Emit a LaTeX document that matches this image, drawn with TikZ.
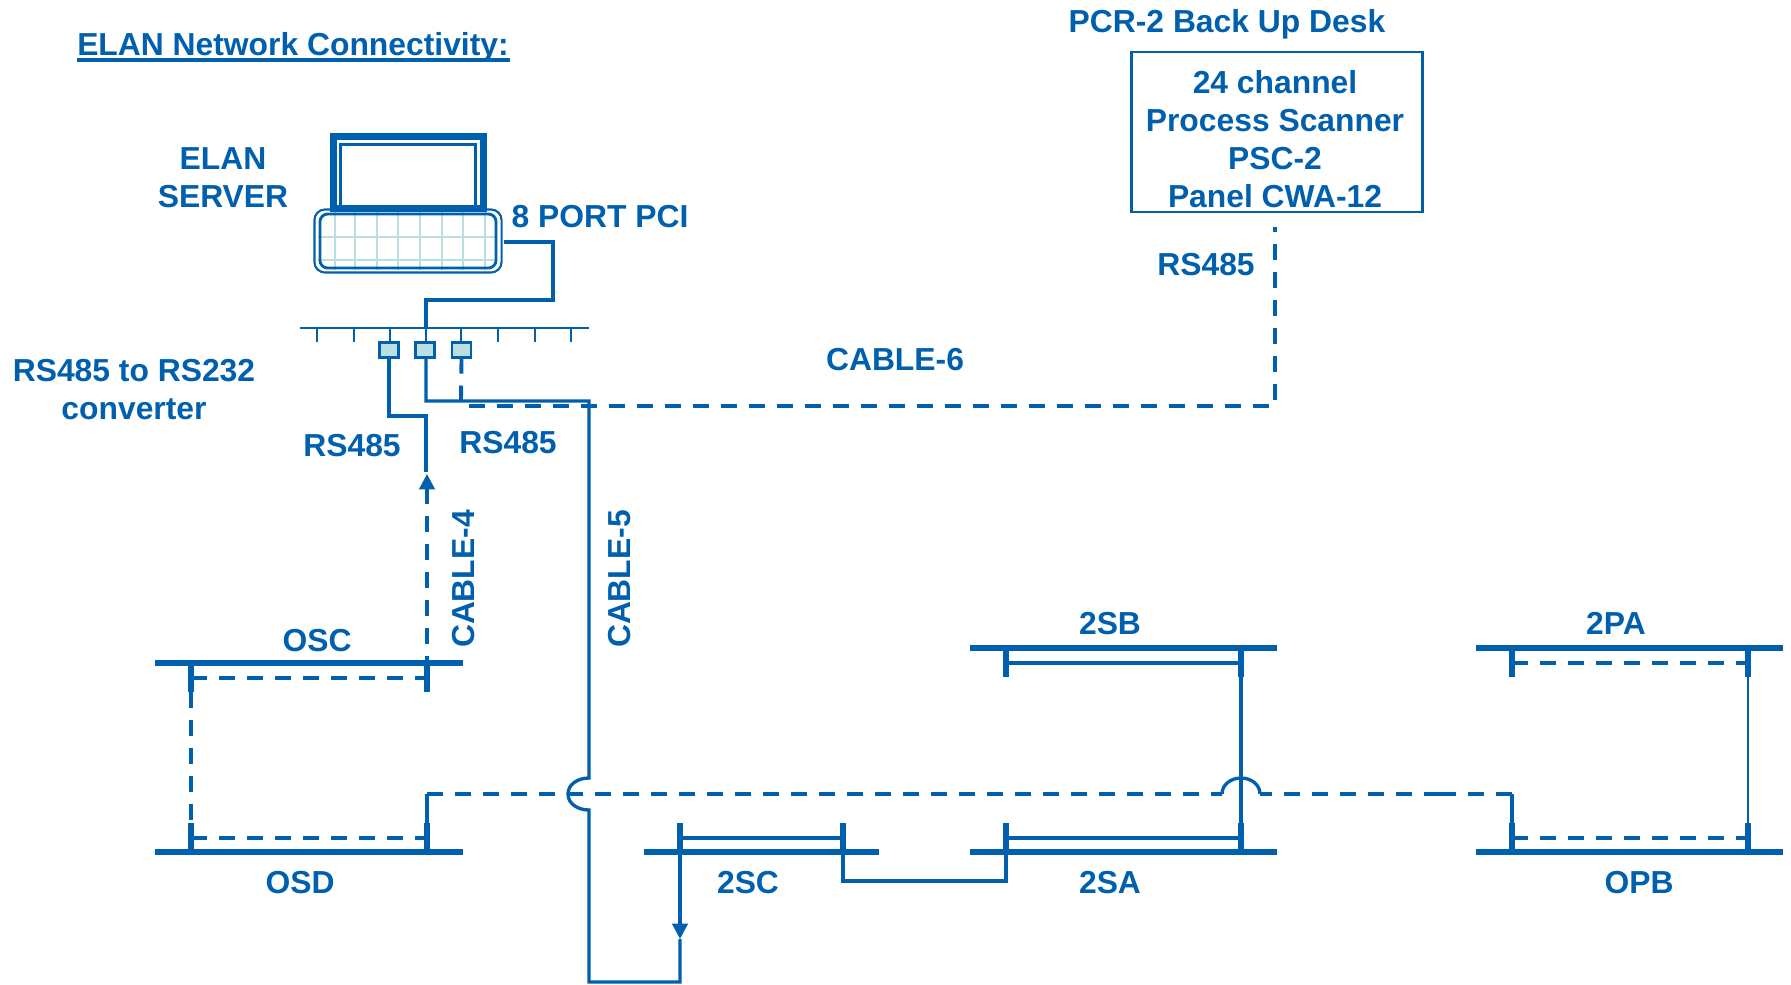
\documentclass[tikz,border=0pt]{standalone}
\usepackage{fontspec}
\setmainfont{Liberation Sans}
\usepackage{tikz}
\usetikzlibrary{arrows.meta}
\definecolor{elanblue}{HTML}{0060AE}
\definecolor{elanpale}{HTML}{B9DFE0}
\tikzset{
	lbl/.style={font=\fontsize{9.05}{10.8}\selectfont\bfseries,text=elanblue,anchor=base,inner sep=0pt,outer sep=0pt,align=center},
	bus/.style={draw=elanblue,line width=1.6pt},
	stub/.style={draw=elanblue,line width=1.5pt},
	wire/.style={draw=elanblue,line width=0.95pt},
	thinwire/.style={draw=elanblue,line width=0.65pt},
	dashwire/.style={draw=elanblue,line width=1.1pt,dash pattern=on 4.55pt off 3.41pt},
	conv/.style={draw=elanblue,fill=elanpale,line width=0.65pt,minimum width=0.19cm,minimum height=0.15cm,inner sep=0pt,outer sep=0pt},
	grid/.style={draw=elanpale,line width=0.7pt},
	tip/.style={-{Triangle[width=4.4pt,length=4.4pt]}}
}
\begin{document}
\begin{tikzpicture}[x=0.01cm,y=-0.01cm]
	\useasboundingbox (0,0) rectangle (1791,984);
	% laptop
	\draw[grid] (335,211) to (335,270);
	\draw[grid] (355,211) to (355,270);
	\draw[grid] (377,211) to (377,270);
	\draw[grid] (398,211) to (398,270);
	\draw[grid] (420,211) to (420,270);
	\draw[grid] (442,211) to (442,270);
	\draw[grid] (463,211) to (463,270);
	\draw[grid] (485,211) to (485,270);
	\draw[grid] (318,237) to (497,237);
	\draw[grid] (318,260) to (497,260);
	\node[draw=elanblue,line width=2pt,minimum width=1.5cm,minimum height=0.72cm,inner sep=0pt] (monitor) at (408.5,172.5) {};
	\node[draw=elanblue,line width=0.8pt,minimum width=1.35cm,minimum height=0.63cm,inner sep=0pt] (screen) at (408,176) {};
	\node[draw=elanblue,line width=0.6pt,rounded corners=3pt,minimum width=1.87cm,minimum height=0.63cm,inner sep=0pt] (kbdouter) at (408,241) {};
	\node[draw=elanblue,line width=0.8pt,rounded corners=2.2pt,minimum width=1.76cm,minimum height=0.54cm,inner sep=0pt] (kbd) at (408,241) {};
	% port strip
	\coordinate (stripL) at (300,328);
	\coordinate (stripR) at (589,328);
	\coordinate (tickA) at (317,328);
	\coordinate (tickAe) at (317,342);
	\coordinate (tickB) at (354,328);
	\coordinate (tickBe) at (354,342);
	\coordinate (tickC) at (390,328);
	\coordinate (tickD) at (426,328);
	\coordinate (tickE) at (461,328);
	\coordinate (tickF) at (498,328);
	\coordinate (tickFe) at (498,342);
	\coordinate (tickG) at (535,328);
	\coordinate (tickGe) at (535,342);
	\coordinate (tickH) at (571,328);
	\coordinate (tickHe) at (571,342);
	\node[conv] (convA) at (389,350) {};
	\node[conv] (convB) at (425,350) {};
	\node[conv] (convC) at (461.5,350) {};
	\draw[thinwire] (stripL) to (stripR);
	\draw[thinwire] (tickA) to (tickAe);
	\draw[thinwire] (tickB) to (tickBe);
	\draw[thinwire] (tickC) to (tickC |- convA.north);
	\draw[thinwire] (tickD) to (tickD |- convB.north);
	\draw[thinwire] (tickE) to (tickE |- convC.north);
	\draw[thinwire] (tickF) to (tickFe);
	\draw[thinwire] (tickG) to (tickGe);
	\draw[thinwire] (tickH) to (tickHe);
	% server to strip
	\coordinate (pciA) at (504,242);
	\coordinate (pciB) at (553,242);
	\coordinate (pciC) at (553,300);
	\coordinate (pciD) at (426,300);
	\draw[wire] (pciA) to (pciB) to (pciC) to (pciD) to (tickD);
	% buses
	\coordinate (oscL) at (155,663);
	\coordinate (oscR) at (463,663);
	\coordinate (osdL) at (155,852);
	\coordinate (osdR) at (463,852);
	\coordinate (scL) at (644,852);
	\coordinate (scR) at (879,852);
	\coordinate (saL) at (970,852);
	\coordinate (saR) at (1277,852);
	\coordinate (sbL) at (970,648);
	\coordinate (sbR) at (1277,648);
	\coordinate (paL) at (1476,648);
	\coordinate (paR) at (1783,648);
	\coordinate (opL) at (1476,852);
	\coordinate (opR) at (1783,852);
	\draw[bus] (oscL) to (oscR);
	\draw[bus] (osdL) to (osdR);
	\draw[bus] (scL) to (scR);
	\draw[bus] (saL) to (saR);
	\draw[bus] (sbL) to (sbR);
	\draw[bus] (paL) to (paR);
	\draw[bus] (opL) to (opR);
	% breakers
	\coordinate (oscA) at (191,663);
	\coordinate (oscAe) at (191,692);
	\coordinate (oscB) at (427,663);
	\coordinate (oscBe) at (427,692);
	\coordinate (osdA) at (191,852);
	\coordinate (osdAe) at (191,823);
	\coordinate (osdB) at (427,852);
	\coordinate (osdBe) at (427,823);
	\coordinate (scA) at (680,852);
	\coordinate (scAe) at (680,823);
	\coordinate (scB) at (843,852);
	\coordinate (scBe) at (843,823);
	\coordinate (saA) at (1006,852);
	\coordinate (saAe) at (1006,823);
	\coordinate (saB) at (1241,852);
	\coordinate (saBe) at (1241,823);
	\coordinate (sbA) at (1006,648);
	\coordinate (sbAe) at (1006,677);
	\coordinate (sbB) at (1241,648);
	\coordinate (sbBe) at (1241,677);
	\coordinate (paA) at (1512,648);
	\coordinate (paAe) at (1512,677);
	\coordinate (paB) at (1748,648);
	\coordinate (paBe) at (1748,677);
	\coordinate (opA) at (1512,852);
	\coordinate (opAe) at (1512,823);
	\coordinate (opB) at (1748,852);
	\coordinate (opBe) at (1748,823);
	\draw[stub] (oscA) to (oscAe);
	\draw[stub] (oscB) to (oscBe);
	\draw[stub] (osdA) to (osdAe);
	\draw[stub] (osdB) to (osdBe);
	\draw[stub] (scA) to (scAe);
	\draw[stub] (scB) to (scBe);
	\draw[stub] (saA) to (saAe);
	\draw[stub] (saB) to (saBe);
	\draw[stub] (sbA) to (sbAe);
	\draw[stub] (sbB) to (sbBe);
	\draw[stub] (paA) to (paAe);
	\draw[stub] (paB) to (paBe);
	\draw[stub] (opA) to (opAe);
	\draw[stub] (opB) to (opBe);
	% links between breakers
	\draw[dashwire] (191,678) to (427,678);
	\draw[dashwire] (191,838) to (427,838);
	\draw[wire] (680,838) to (843,838);
	\draw[wire] (1006,838) to (1241,838);
	\draw[wire] (1006,663) to (1241,663);
	\draw[dashwire] (1512,663) to (1748,663);
	\draw[dashwire] (1512,838) to (1748,838);
	\draw[dashwire] (oscAe) to (osdAe);
	\draw[wire] (sbBe) to (saBe);
	\draw[thinwire] (paBe) to (opBe);
	% ring
	\coordinate (ringA) at (427,794);
	\coordinate (ringB) at (1222,794);
	\coordinate (ringC) at (1241,778);
	\coordinate (ringD) at (1260,794);
	\coordinate (ringE) at (1440,794);
	\coordinate (ringF) at (1512,794);
	\draw[wire] (osdB) to (ringA);
	\draw[dashwire] (ringA) to (ringB);
	\draw[wire] (ringB) to[out=90,in=180] (ringC) to[out=0,in=90] (ringD);
	\draw[dashwire,dash phase=1.14pt] (ringD) to (ringE);
	\draw[dashwire] (ringE) to (ringF);
	\draw[wire] (ringF) to (opA);
	\coordinate (linkA) at (843,881);
	\coordinate (linkB) at (1006,881);
	\draw[wire] (scB) to (linkA) to (linkB) to (saA);
	% cable 4
	\coordinate (cabA) at (389,416);
	\coordinate (cabB) at (426,416);
	\coordinate (cabC) at (426,472);
	\coordinate (cabD) at (427,474);
	\coordinate (cabE) at (427,488);
	\coordinate (cabF) at (427,672);
	\draw[wire] (convA.south) to (cabA) to (cabB) to (cabC);
	\draw[dashwire] (cabF) to (cabE);
	\draw[wire,tip] (cabE) to (cabD);
	% cable 5
	\coordinate (fiveA) at (426,401);
	\coordinate (fiveB) at (589,401);
	\coordinate (fiveC) at (589,778);
	\coordinate (fiveD) at (568,794);
	\coordinate (fiveE) at (589,810);
	\coordinate (fiveF) at (589,982);
	\coordinate (fiveG) at (680,982);
	\coordinate (fiveH) at (680,939);
	\draw[wire] (convB.south -| fiveA) to (fiveA) to (fiveB) to (fiveC) to[out=180,in=90] (fiveD) to[out=-90,in=180] (fiveE) to (fiveF) to (fiveG) to (fiveH);
	\draw[wire,tip] (scA) to (fiveH);
	% cable 6
	\node[draw=elanblue,line width=0.7pt,minimum width=2.91cm,minimum height=1.6cm,inner sep=0pt] (psc) at (1277,132) {};
	\node[lbl] (psctext) at (1275,207) {24 channel\\Process Scanner\\PSC-2\\Panel CWA-12};
	\coordinate (sixA) at (461,401);
	\coordinate (sixB) at (469,406);
	\coordinate (sixC) at (1275,406);
	\coordinate (sixD) at (1275,227);
	\draw[dashwire] (convC.south) to (sixA);
	\draw[dashwire] (sixB) to (sixC) to (sixD);
	% labels
	\node[lbl] (title) at (293,55) {ELAN Network Connectivity:};
	\coordinate (titleL) at (77,60);
	\coordinate (titleR) at (510,60);
	\draw[draw=elanblue,line width=1.1pt] (titleL) to (titleR);
	\node[lbl] (desk) at (1227,32) {PCR-2 Back Up Desk};
	\node[lbl] (server) at (223,207) {ELAN\\SERVER};
	\node[lbl] (pci) at (600,227) {8 PORT PCI};
	\node[lbl] (conv) at (134,419) {RS485 to RS232\\converter};
	\node[lbl] (rsA) at (352,456) {RS485};
	\node[lbl] (rsB) at (508,453) {RS485};
	\node[lbl] (rsC) at (1206,275) {RS485};
	\node[lbl] (six) at (895,370) {CABLE-6};
	\node[lbl,rotate=90] (four) at (474,579) {CABLE-4};
	\node[lbl,rotate=90] (five) at (630,579) {CABLE-5};
	\node[lbl] (osc) at (317,651) {OSC};
	\node[lbl] (osd) at (300,893) {OSD};
	\node[lbl] (sc) at (748,893) {2SC};
	\node[lbl] (sa) at (1110,893) {2SA};
	\node[lbl] (sb) at (1110,634) {2SB};
	\node[lbl] (pa) at (1616,634) {2PA};
	\node[lbl] (op) at (1639,893) {OPB};
\end{tikzpicture}
\end{document}
